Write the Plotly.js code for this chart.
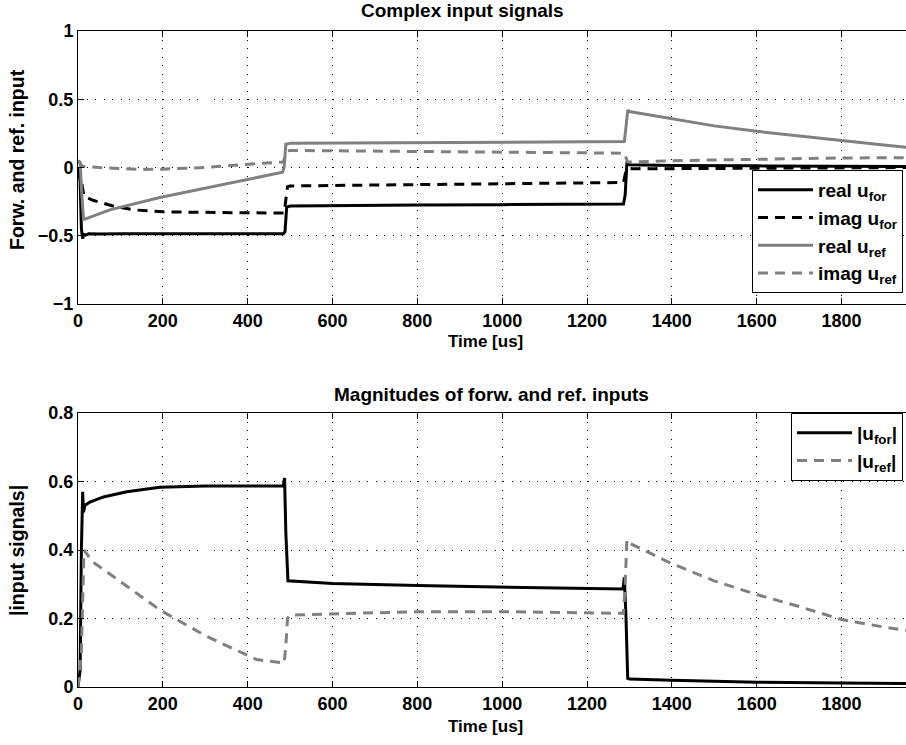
<!DOCTYPE html>
<html>
<head>
<meta charset="utf-8">
<script src="https://cdn.plot.ly/plotly-3.0.1.min.js"></script>
<style>html,body{margin:0;padding:0;overflow:hidden;background:#fff;}#chart{width:912px;height:745px;}</style>
</head>
<body>
<div id="chart"></div>
<script>
// ---- Data ----
const tRealFor = [0, 5, 8, 11, 14, 18, 25, 50, 100, 200, 300, 400, 484, 488, 492, 500, 600, 800, 1000, 1200, 1286, 1290, 1294, 1300, 1400, 1600, 1800, 1966];
const realFor  = [0, -0.1, -0.45, -0.52, -0.49, -0.495, -0.485, -0.487, -0.485, -0.486, -0.484, -0.486, -0.485, -0.47, -0.29, -0.282, -0.278, -0.275, -0.272, -0.27, -0.268, -0.2, 0.03, 0.02, 0.015, 0.012, 0.01, 0.008];

const tImagFor = [0, 8, 14, 35, 80, 130, 200, 300, 400, 486, 490, 494, 500, 700, 1000, 1286, 1290, 1294, 1300, 1500, 1966];
const imagFor  = [0, -0.1, -0.21, -0.24, -0.28, -0.31, -0.325, -0.33, -0.332, -0.333, -0.25, -0.14, -0.135, -0.13, -0.12, -0.11, -0.05, -0.01, -0.01, -0.008, 0.0];

const tRealRef = [0, 5, 9, 13, 15, 75, 193, 300, 428, 482, 486, 490, 500, 800, 1000, 1288, 1292, 1296, 1300, 1400, 1500, 1600, 1700, 1800, 1900, 1966];
const realRef  = [0.05, 0.04, -0.2, -0.38, -0.38, -0.31, -0.22, -0.15, -0.07, -0.035, 0.0, 0.17, 0.178, 0.182, 0.185, 0.19, 0.3, 0.42, 0.41, 0.355, 0.305, 0.265, 0.23, 0.197, 0.165, 0.145];

const tImagRef = [0, 10, 50, 100, 150, 200, 300, 430, 484, 488, 492, 500, 800, 1000, 1288, 1292, 1296, 1300, 1400, 1600, 1800, 1966];
const imagRef  = [0.05, 0.01, 0.0, -0.01, -0.015, -0.012, 0.0, 0.03, 0.04, 0.08, 0.12, 0.125, 0.118, 0.113, 0.105, 0.07, 0.04, 0.04, 0.05, 0.06, 0.07, 0.072];

const tMagFor = [0, 5, 8, 11, 13, 16, 28, 60, 115, 193, 300, 400, 484, 487, 490, 495, 600, 800, 1000, 1200, 1285, 1288, 1292, 1296, 1300, 1400, 1536, 1600, 1800, 1966];
const magFor  = [0, 0.05, 0.4, 0.57, 0.51, 0.53, 0.54, 0.555, 0.57, 0.583, 0.587, 0.588, 0.587, 0.61, 0.45, 0.31, 0.302, 0.296, 0.292, 0.288, 0.286, 0.32, 0.2, 0.025, 0.023, 0.02, 0.015, 0.014, 0.012, 0.01];

const tMagRef = [0, 8, 14, 20, 35, 75, 193, 300, 421, 486, 490, 494, 500, 800, 1000, 1286, 1290, 1294, 1300, 1400, 1500, 1600, 1700, 1800, 1900, 1966];
const magRef  = [0, 0.1, 0.4, 0.39, 0.365, 0.33, 0.225, 0.15, 0.08, 0.07, 0.12, 0.2, 0.21, 0.22, 0.22, 0.215, 0.3, 0.43, 0.42, 0.36, 0.31, 0.27, 0.235, 0.197, 0.175, 0.163];

const xTicks = [0, 200, 400, 600, 800, 1000, 1200, 1400, 1600, 1800];
const yTicksTop = [-1, -0.5, 0, 0.5, 1];
const yTickTextTop = ['\u22121', '\u22120.5', '0', '0.5', '1'];
const yTicksBot = [0, 0.2, 0.4, 0.6, 0.8];
const yTickTextBot = ['0', '0.2', '0.4', '0.6', '0.8'];

// ---- Layout geometry (pixels) ----
const W = 912, H = 745;
const L = 78, T = 31, B = 58;
const pw = W - L, ph = H - T - B;
const px = v => (v - L) / pw;
const py = v => (H - B - v) / ph;

const GRAY = '#808080';
const FONT = 'Liberation Sans, Arial, Helvetica, sans-serif';
const DASH = '10px,7px';
const f = s => ({family: FONT, size: s, color: '#000', weight: 'bold'});

const traces = [
  {x: tRealFor, y: realFor, name: 'real u<sub>for</sub>', xaxis: 'x', yaxis: 'y', line: {color: '#000', width: 3}},
  {x: tImagFor, y: imagFor, name: 'imag u<sub>for</sub>', xaxis: 'x', yaxis: 'y', line: {color: '#000', width: 3, dash: DASH}},
  {x: tRealRef, y: realRef, name: 'real u<sub>ref</sub>', xaxis: 'x', yaxis: 'y', line: {color: GRAY, width: 3}},
  {x: tImagRef, y: imagRef, name: 'imag u<sub>ref</sub>', xaxis: 'x', yaxis: 'y', line: {color: GRAY, width: 3, dash: DASH}},
  {x: tMagFor, y: magFor, name: '|u<sub>for</sub>|', xaxis: 'x2', yaxis: 'y2', legend: 'legend2', line: {color: '#000', width: 3}},
  {x: tMagRef, y: magRef, name: '|u<sub>ref</sub>|', xaxis: 'x2', yaxis: 'y2', legend: 'legend2', line: {color: GRAY, width: 3, dash: DASH}}
].map(t => Object.assign({type: 'scatter', mode: 'lines'}, t));

const axisCommon = {
  showline: true, linecolor: '#000', linewidth: 1, mirror: 'ticks',
  ticks: 'inside', ticklen: 6, tickcolor: '#000', tickwidth: 1,
  showgrid: true, gridcolor: '#000', gridwidth: 1, griddash: '1px,7.5px',
  zeroline: false,
  tickfont: f(18)
};

const xRange = [0, (W - L) / (841.5 - 78) * 1800];

const legendCommon = {xanchor: 'right', yanchor: 'top', bgcolor: '#fff', bordercolor: '#000', borderwidth: 1,
  itemwidth: 55, font: f(19)};

const layout = {
  width: W, height: H,
  margin: {l: L, r: 0, t: T, b: B},
  paper_bgcolor: '#fff', plot_bgcolor: '#fff',
  showlegend: true,
  xaxis: Object.assign({}, axisCommon, {domain: [0, 1], anchor: 'y', range: xRange, tickvals: xTicks}),
  yaxis: Object.assign({}, axisCommon, {domain: [py(304), 1], anchor: 'x', range: [-1, 1], tickvals: yTicksTop, ticktext: yTickTextTop}),
  xaxis2: Object.assign({}, axisCommon, {domain: [0, 1], anchor: 'y2', range: xRange, tickvals: xTicks}),
  yaxis2: Object.assign({}, axisCommon, {domain: [0, py(413)], anchor: 'x2', range: [0, 0.8], tickvals: yTicksBot, ticktext: yTickTextBot}),
  legend: Object.assign({x: px(903), y: py(170)}, legendCommon),
  legend2: Object.assign({x: px(903), y: py(413)}, legendCommon),
  annotations: [
    {text: 'Complex input signals', xref: 'paper', yref: 'paper', x: px(462), y: py(10), showarrow: false, xanchor: 'center', yanchor: 'middle', font: f(19)},
    {text: 'Magnitudes of forw. and ref. inputs', xref: 'paper', yref: 'paper', x: px(491), y: py(394), showarrow: false, xanchor: 'center', yanchor: 'middle', font: f(19)},
    {text: 'Time [us]', xref: 'paper', yref: 'paper', x: px(485), y: py(341), showarrow: false, xanchor: 'center', yanchor: 'middle', font: f(17)},
    {text: 'Time [us]', xref: 'paper', yref: 'paper', x: px(485), y: py(726), showarrow: false, xanchor: 'center', yanchor: 'middle', font: f(17)},
    {text: 'Forw. and ref. input', xref: 'paper', yref: 'paper', x: px(17), y: py(160), showarrow: false, textangle: -90, xanchor: 'center', yanchor: 'middle', font: f(19.5)},
    {text: '|input signals|', xref: 'paper', yref: 'paper', x: px(17), y: py(551), showarrow: false, textangle: -90, xanchor: 'center', yanchor: 'middle', font: f(19.5)}
  ]
};

Plotly.newPlot('chart', traces, layout, {displayModeBar: false, staticPlot: true});
</script>
</body>
</html>
